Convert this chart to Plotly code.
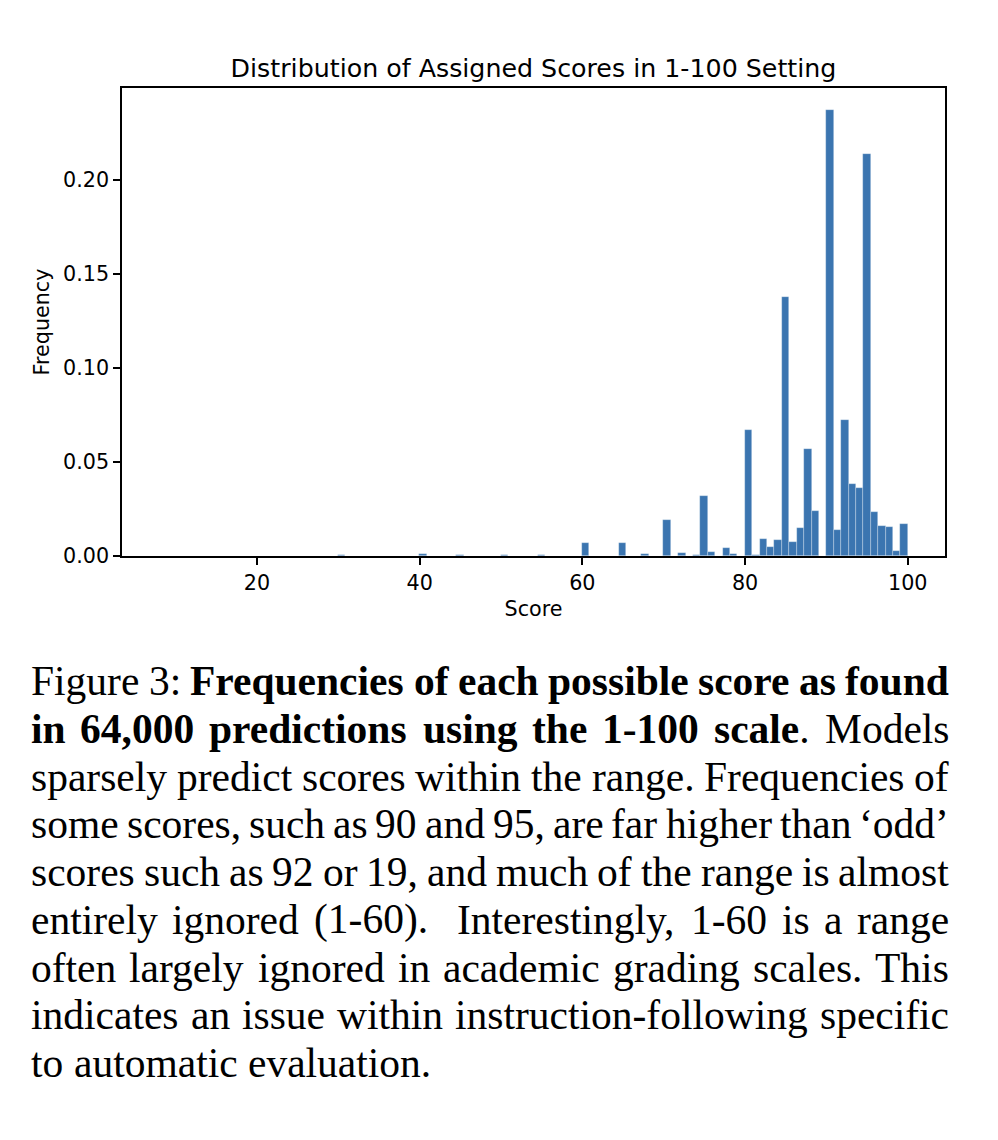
import math
import re
import plotly.graph_objects as go

# ---- data ----
scores = [30, 40, 45, 50, 55, 60, 65, 68, 70, 72, 74, 75, 76, 78, 79,
          80, 81, 82, 83, 84, 85, 86, 87, 88, 89, 90, 91, 92, 93, 94,
          95, 96, 97, 98, 99, 100]
freqs = [0.0003, 0.0010, 0.0008, 0.0008, 0.0007, 0.0071, 0.0067, 0.0012,
         0.0190, 0.0017, 0.0005, 0.0319, 0.0020, 0.0041, 0.0012,
         0.0670, 0.0008, 0.0089, 0.0048, 0.0085, 0.1376, 0.0076, 0.0150,
         0.0570, 0.0240, 0.2369, 0.0137, 0.0723, 0.0385, 0.0363,
         0.2135, 0.0236, 0.0161, 0.0152, 0.0027, 0.0172]
x_ticks = [20, 40, 60, 80, 100]
y_ticks = [0.00, 0.05, 0.10, 0.15, 0.20]

title = "Distribution of Assigned Scores in 1-100 Setting"
caption_lines = [
    "Figure 3: <b>Frequencies of each possible score as found</b>",
    "<b>in 64,000 predictions using the 1-100 scale</b>. Models",
    "sparsely predict scores within the range. Frequencies of",
    "some scores, such as 90 and 95, are far higher than \u2018odd\u2019",
    "scores such as 92 or 19, and much of the range is almost",
    "entirely ignored (1-60).  Interestingly, 1-60 is a range",
    "often largely ignored in academic grading scales. This",
    "indicates an issue within instruction-following specific",
    "to automatic evaluation.",
]

# histogram binning (100 bins between min and max score)
bin_lo, bin_hi, n_bins = 9, 100, 100
bw = (bin_hi - bin_lo) / n_bins
centers = []
for s in scores:
    k = min(int(math.floor((s - bin_lo) / bw + 1e-9)), n_bins - 1)
    centers.append(bin_lo + bw * k + bw / 2)

W, H = 998, 1140
L, R, T, B = 122, 945, 88, 556

fig = go.Figure()
fig.add_trace(go.Bar(
    x=centers, y=freqs, width=bw,
    marker=dict(color="rgb(59,117,176)",
                line=dict(color="rgba(255,255,255,0.45)", width=0.6)),
    showlegend=False,
))

axis_font = dict(family="DejaVu Sans", size=20.7, color="black")
fig.update_layout(
    width=W, height=H,
    margin=dict(l=L, r=W - R, t=T, b=H - B, pad=0),
    paper_bgcolor="white", plot_bgcolor="white",
    bargap=0,
    title=dict(text=title, x=0.5, xref="paper", xanchor="center",
               y=1 - 68 / H, yref="container", yanchor="middle",
               font=dict(family="DejaVu Sans", size=25.3, color="black")),
    xaxis=dict(range=[3.41, 104.58], tickvals=x_ticks,
               ticktext=[str(v) for v in x_ticks],
               showgrid=False, zeroline=False, showline=True,
               linecolor="black", linewidth=1.6, mirror=True,
               ticks="outside", ticklen=7, tickwidth=1.6, tickcolor="black",
               tickfont=axis_font,
               title=dict(text="Score", font=axis_font, standoff=8)),
    yaxis=dict(range=[0, 0.2488], tickvals=y_ticks,
               ticktext=[f"{v:.2f}" for v in y_ticks],
               showgrid=False, zeroline=False, showline=True,
               linecolor="black", linewidth=1.6, mirror=True,
               ticks="outside", ticklen=7, tickwidth=1.6, tickcolor="black",
               tickfont=axis_font,
               title=dict(text="Frequency", font=axis_font, standoff=8)),
)

# ---- justified caption (Times-style advance widths, 1/1000 em) ----
_reg = {' ': 250, '(': 333, ')': 333, ',': 250, '-': 333, '.': 250,
        ':': 278, '\u2018': 333, '\u2019': 333}
_reg.update({d: 500 for d in "0123456789"})
_reg.update(dict(zip("ABCDEFGHIJKLMNOPQRSTUVWXYZ",
                     [722, 667, 667, 722, 611, 556, 722, 722, 333, 389, 722,
                      611, 889, 722, 722, 556, 722, 667, 556, 611, 722, 722,
                      944, 722, 722, 611])))
_reg.update(dict(zip("abcdefghijklmnopqrstuvwxyz",
                     [444, 500, 444, 500, 444, 333, 500, 500, 278, 278, 500,
                      278, 778, 500, 500, 500, 500, 333, 389, 278, 500, 500,
                      722, 500, 500, 444])))
_bold = dict(_reg)
_bold.update({':': 333, 'F': 611})
_bold.update(dict(zip("abcdefghijklmnopqrstuvwxyz",
                      [500, 556, 444, 556, 444, 333, 500, 556, 278, 333, 556,
                       278, 833, 556, 500, 556, 556, 444, 389, 333, 556, 500,
                       722, 500, 500, 444])))

cap_size = 41.5
cap_left, cap_right = 30, 948
line_y0, line_dy = 681, 47.75


def words_of(line):
    """Split a line with <b> markup into (markup, width_px) words."""
    out = []
    bold = False
    cur_txt, cur_w = "", 0.0
    for tok in re.split(r"(</?b>)", line):
        if tok == "<b>":
            bold = True
            continue
        if tok == "</b>":
            bold = False
            continue
        for ch in tok:
            if ch == " ":
                out.append((cur_txt, cur_w))
                cur_txt, cur_w = "", 0.0
            else:
                cur_txt += f"<b>{ch}</b>" if bold else ch
                cur_w += (_bold if bold else _reg).get(ch, 500) * cap_size / 1000
    out.append((cur_txt, cur_w))
    return out


for i, line in enumerate(caption_lines):
    py = line_y0 + i * line_dy
    words = words_of(line)
    total = sum(w for _, w in words)
    ngaps = len(words) - 1
    last = i == len(caption_lines) - 1
    gap = 0.25 * cap_size if last else (cap_right - cap_left - total) / ngaps
    x = cap_left
    for txt, w in words:
        if txt:
            txt = re.sub(r"</b><b>", "", txt)
            fig.add_annotation(
                text=txt, xref="paper", yref="paper",
                x=(x - 1 - L) / (R - L), y=(B - py) / (B - T),
                xanchor="left", yanchor="middle", showarrow=False,
                align="left",
                font=dict(family="Liberation Serif", size=cap_size,
                          color="black"),
            )
        x += w + gap

fig.write_html("out.html")
